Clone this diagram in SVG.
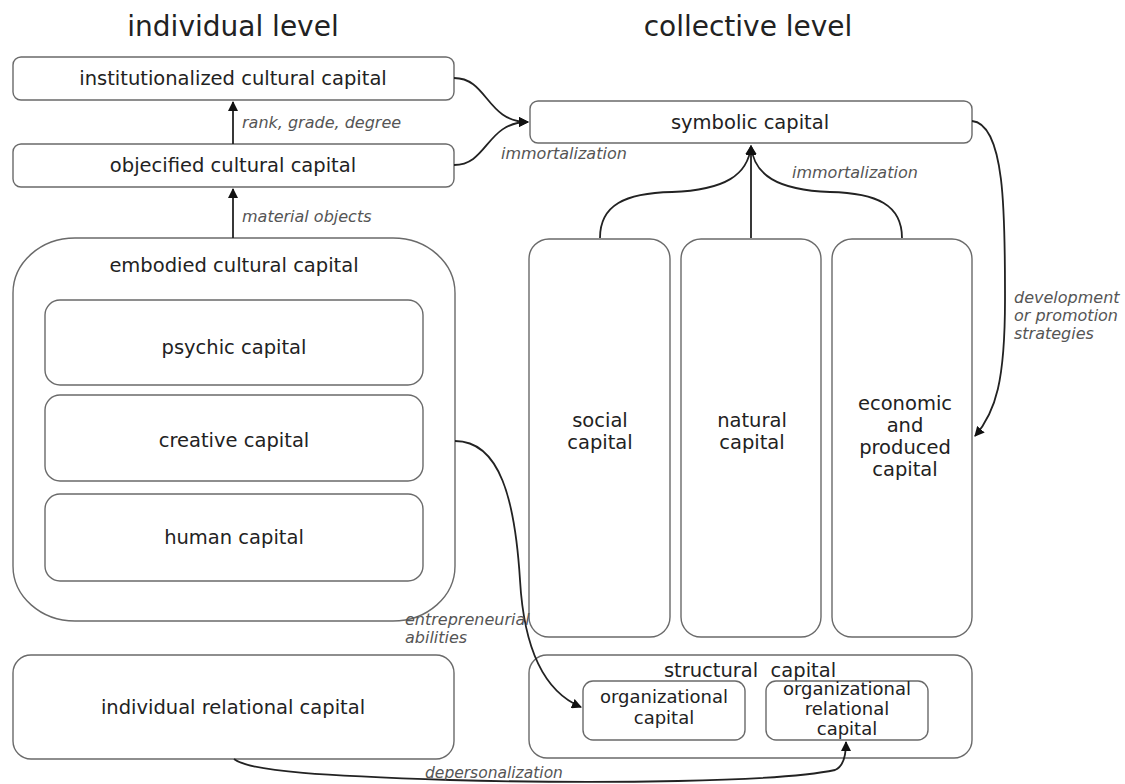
<svg xmlns="http://www.w3.org/2000/svg" width="1125" height="784" viewBox="0 0 1125 784">
<style>
.box{fill:#fff;stroke:#6a6a6a;stroke-width:1.4}
.t{font-family:"DejaVu Sans","Liberation Sans",sans-serif;font-size:19.5px;fill:#222;text-anchor:middle}
.title{font-family:"DejaVu Sans","Liberation Sans",sans-serif;font-size:28px;fill:#222;text-anchor:middle}
.lbl{font-family:"DejaVu Sans","Liberation Sans",sans-serif;font-style:italic;font-size:16px;fill:#555}
.c{fill:none;stroke:#222;stroke-width:1.8}
</style>
<defs>
<marker id="ah" viewBox="0 0 10 10" refX="9" refY="5" markerWidth="10" markerHeight="10" markerUnits="userSpaceOnUse" orient="auto">
<path d="M0,0 L10,5 L0,10 Z" fill="#111"/>
</marker>
</defs>
<rect width="1125" height="784" fill="#fff"/>
<text class="title" x="233" y="36">individual level</text>
<text class="title" x="748" y="36">collective level</text>

<g id="institutionalized">
<rect class="box" x="13" y="57" width="441" height="43" rx="8"/>
<text class="t" x="233" y="85">institutionalized cultural capital</text>
</g>
<g id="objectified">
<rect class="box" x="13" y="144" width="441" height="43" rx="8"/>
<text class="t" x="233" y="172">objecified cultural capital</text>
</g>
<g id="embodied">
<rect class="box" x="13" y="238" width="442" height="383" rx="62" ry="55"/>
<text class="t" x="234" y="272">embodied cultural capital</text>
</g>
<g id="psychic">
<rect class="box" x="45" y="300" width="378" height="85" rx="15"/>
<text class="t" x="234" y="354">psychic capital</text>
</g>
<g id="creative">
<rect class="box" x="45" y="395" width="378" height="86" rx="15"/>
<text class="t" x="234" y="447">creative capital</text>
</g>
<g id="human">
<rect class="box" x="45" y="494" width="378" height="87" rx="15"/>
<text class="t" x="234" y="544">human capital</text>
</g>
<g id="individual-relational">
<rect class="box" x="13" y="655" width="441" height="104" rx="18"/>
<text class="t" x="233" y="714">individual relational capital</text>
</g>
<g id="symbolic">
<rect class="box" x="530" y="101" width="442" height="42" rx="8"/>
<text class="t" x="750" y="129">symbolic capital</text>
</g>
<g id="social">
<rect class="box" x="529" y="239" width="141" height="398" rx="20"/>
<text class="t" x="600" y="427">social</text>
<text class="t" x="600" y="449">capital</text>
</g>
<g id="natural">
<rect class="box" x="681" y="239" width="140" height="398" rx="20"/>
<text class="t" x="752" y="427">natural</text>
<text class="t" x="752" y="449">capital</text>
</g>
<g id="economic">
<rect class="box" x="832" y="239" width="140" height="398" rx="20"/>
<text class="t" x="905" y="410">economic</text>
<text class="t" x="905" y="432">and</text>
<text class="t" x="905" y="454">produced</text>
<text class="t" x="905" y="476">capital</text>
</g>
<g id="structural">
<rect class="box" x="529" y="655" width="443" height="103" rx="18"/>
<text class="t" x="750" y="677" xml:space="preserve">structural  capital</text>
</g>
<g id="organizational">
<rect class="box" x="583" y="681" width="162" height="59" rx="10"/>
<text class="t" x="664" y="703" style="font-size:18px">organizational</text>
<text class="t" x="664" y="724" style="font-size:18px">capital</text>
</g>
<g id="organizational-relational">
<rect class="box" x="766" y="681" width="162" height="59" rx="10"/>
<text class="t" x="847" y="695" style="font-size:18px">organizational</text>
<text class="t" x="847" y="715" style="font-size:18px">relational</text>
<text class="t" x="847" y="735" style="font-size:18px">capital</text>
</g>

<g id="connectors">
<path class="c" d="M233,238 L233,189" marker-end="url(#ah)"/>
<path class="c" d="M233,144 L233,102" marker-end="url(#ah)"/>
<path class="c" d="M454,78 C488,78 486,122 528,122" marker-end="url(#ah)"/>
<path class="c" d="M454,165 C488,165 486,122 528,122" marker-end="url(#ah)"/>
<path class="c" d="M751,238 L751,146" marker-end="url(#ah)"/>
<path class="c" d="M600,238 C600,205 625,193 672,192 C725,190 748,175 751,146" marker-end="url(#ah)"/>
<path class="c" d="M902,238 C902,205 877,193 830,192 C777,190 754,175 751,146" marker-end="url(#ah)"/>
<path class="c" d="M972,121 C1006,124 1005,220 1005,300 C1005,380 996,412 975,436" marker-end="url(#ah)"/>
<path class="c" d="M455,441 C500,441 515,500 520,580 C524,650 545,692 581,707" marker-end="url(#ah)"/>
<path class="c" d="M234,759 C250,772 330,776 450,780 C600,784 780,782 835,770 C845,766 846,752 846,742" marker-end="url(#ah)"/>
<text class="lbl" x="242" y="128">rank, grade, degree</text>
<text class="lbl" x="242" y="222">material objects</text>
<text class="lbl" x="501" y="159">immortalization</text>
<text class="lbl" x="792" y="178">immortalization</text>
<text class="lbl" x="1014" y="303">development</text>
<text class="lbl" x="1014" y="321">or promotion</text>
<text class="lbl" x="1014" y="339">strategies</text>
<text class="lbl" x="405" y="625">entrepreneurial</text>
<text class="lbl" x="405" y="643">abilities</text>
<text class="lbl" x="425" y="778" style="font-size:15.5px">depersonalization</text>
</g>
</svg>
